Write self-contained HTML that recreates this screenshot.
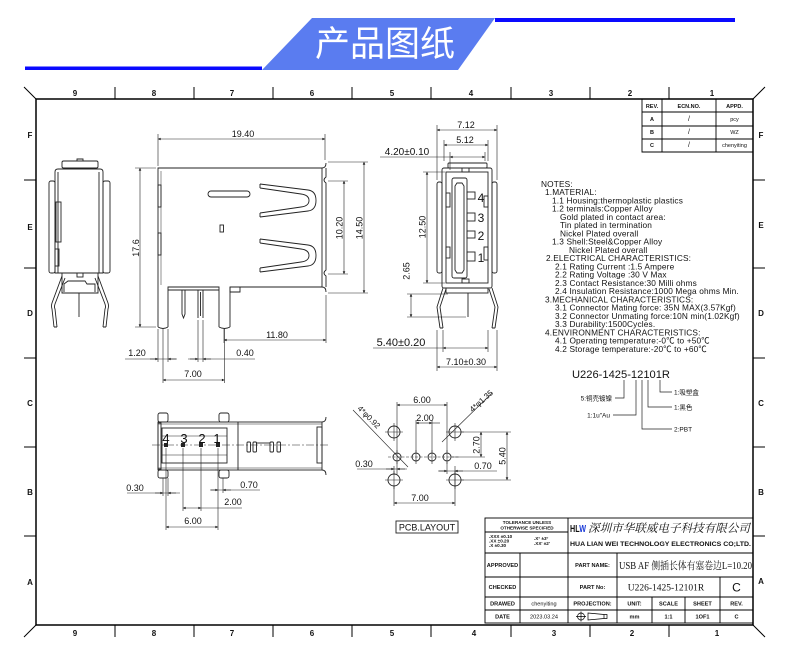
<!DOCTYPE html>
<html><head><meta charset="utf-8"><style>
html,body{margin:0;padding:0;background:#fff;}
svg{display:block;}
text{font-family:"Liberation Sans","Noto Sans CJK SC",sans-serif;fill:#111;}
.b{font-weight:bold;}
.sf{font-family:"Liberation Serif","Noto Serif CJK SC",serif;}
</style></head><body>
<svg width="790" height="663" viewBox="0 0 790 663" xmlns="http://www.w3.org/2000/svg">
<defs>
<marker id="a" viewBox="0 0 10 10" refX="10" refY="5" markerWidth="6" markerHeight="2.6" orient="auto-start-reverse" markerUnits="userSpaceOnUse"><path d="M0,0 L10,5 L0,10z" fill="#111"/></marker>
</defs>
<rect width="790" height="663" fill="#fff"/>

<!-- header -->
<rect x="495" y="18" width="240" height="4" fill="#0a0aff"/>
<rect x="25" y="66.5" width="237" height="3.5" fill="#0a0aff"/>
<polygon points="312,18 495,18 458,70 262,70" fill="#5a7cf0"/>
<text x="385" y="56" font-size="35" style="fill:#fff" text-anchor="middle" font-family="Noto Sans CJK SC, sans-serif">产品图纸</text>

<!-- frame -->
<g stroke="#000" fill="none">
<rect x="36" y="99" width="717" height="526" stroke-width="1.5"/>
<path stroke-width="1" d="M36,99 L24,87 M753,99 L765,87 M36,625 L24,637 M753,625 L765,637"/>
<path stroke-width="1" d="M115,87V99 M194,87V99 M273,87V99 M352,87V99 M431,87V99 M511,87V99 M590,87V99 M669,87V99
M115,625V637 M194,625V637 M273,625V637 M352,625V637 M431,625V637 M511,625V637 M590,625V637 M669,625V637
M24,180H36 M24,268H36 M24,358H36 M24,447H36 M24,536H36
M753,180H765 M753,268H765 M753,358H765 M753,447H765 M753,536H765"/>
</g>
<g class="b" font-size="8" text-anchor="middle">
<text x="75" y="96">9</text><text x="154" y="96">8</text><text x="232" y="96">7</text><text x="312" y="96">6</text><text x="392" y="96">5</text><text x="471" y="96">4</text><text x="551" y="96">3</text><text x="630" y="96">2</text><text x="712" y="96">1</text>
<text x="75" y="636">9</text><text x="154" y="636">8</text><text x="232" y="636">7</text><text x="312" y="636">6</text><text x="392" y="636">5</text><text x="474" y="636">4</text><text x="554" y="636">3</text><text x="632" y="636">2</text><text x="717" y="636">1</text>
<text x="30" y="138">F</text><text x="30" y="230">E</text><text x="30" y="316">D</text><text x="30" y="406">C</text><text x="30" y="495">B</text><text x="30" y="585">A</text>
<text x="761" y="138">F</text><text x="761" y="228">E</text><text x="761" y="316">D</text><text x="761" y="406">C</text><text x="761" y="495">B</text><text x="761" y="584">A</text>
</g>

<!-- revision table -->
<g stroke="#000" fill="none" stroke-width="0.9">
<path d="M642,99 V152 H753 M642,112 H753 M642,126 H753 M642,139 H753 M662,99 V152 M716,99 V152"/>
</g>
<g font-size="5.5" text-anchor="middle">
<text class="b" x="652" y="108">REV.</text><text class="b" x="689" y="108">ECN.NO.</text><text class="b" x="734.5" y="108">APPD.</text>
<text class="b" x="652" y="121">A</text><text x="689" y="121" font-size="7">/</text><text x="734.5" y="121">pcy</text>
<text class="b" x="652" y="134">B</text><text x="689" y="134" font-size="7">/</text><text x="734.5" y="134">WZ</text>
<text class="b" x="652" y="147">C</text><text x="689" y="147" font-size="7">/</text><text x="734.5" y="147">chenyiting</text>
</g>

<!-- side view (left) -->
<g stroke="#222" stroke-width="0.9" fill="none">
<rect x="62" y="161" width="36" height="7" rx="1.5"/>
<path d="M77,161 V159 H83 V161"/>
<path d="M55,273 V172 Q55,169 58,169 H100 Q103,169 103,172 V273 Z"/>
<path d="M58,172 V273 M99,172 V273"/>
<rect x="49" y="181" width="6" height="92" rx="2"/>
<rect x="103" y="181" width="7" height="92" rx="2"/>
<rect x="56" y="202" width="5" height="40"/>
<rect x="55" y="249" width="4" height="17"/>
<path d="M62,273 V293 H98 V273"/>
<path d="M64,292 V284 L68,281 H85 L87,284 H95 V292"/>
<rect x="77" y="273" width="6" height="4"/>
<path d="M62,276 L52,303 Q51,306 52,309 L54,327 M65,278 L55,304 Q54,307 55,309 L57,327 M54,327 H57"/>
<path d="M98,276 L108,303 Q109,306 108,309 L106,327 M95,278 L105,304 Q106,307 105,309 L103,327 M103,327 H106"/>
<path d="M79,293 V317"/>
</g>

<!-- front view -->
<g stroke="#222" stroke-width="0.9" fill="none">
<path d="M158,327 V168 H322"/>
<path d="M322,168 Q326,168 326,163"/>
<path d="M322,168 V287"/>
<path d="M326,168 V177 Q322,180 326,183 V270 Q322,273 326,276 V287"/>
<path d="M322,287 Q326,287 326,292"/>
<path d="M168,327 V287 H219 V327"/>
<path d="M230,327 V287 H322"/>
<path d="M230,287 V292 H240 V287"/>
<path d="M158,327 Q163,330 168,327 M219,327 Q224.5,330 230,327"/>
<path d="M161,171 V285" stroke-width="0.5"/>
<path d="M168,290 H219"/>
<path d="M182,290 V314 L183.5,318 L185,314 V290"/>
<path d="M198,290 V318 M203,290 V318 M200.5,292 V316"/>
<rect x="208" y="191" width="42" height="6" rx="3"/>
<rect x="220" y="225" width="3.5" height="7"/>
<rect x="158" y="185" width="3" height="22"/>
<rect x="158" y="233" width="3" height="22"/>
<path d="M260,184 L308,190 Q316,191 316,200.5 Q316,210 308,211 L260,217 M260,184 V188 M260,213 V217"/>
<path d="M260,188 L301,194 Q309,195 309,200.5 Q309,206 301,207 L260,213"/>
<path d="M260,239 L308,245 Q316,246 316,255.5 Q316,265 308,266 L260,272 M260,239 V243 M260,268 V272"/>
<path d="M260,243 L301,249 Q309,250 309,255.5 Q309,261 301,262 L260,268"/>
</g>

<!-- end view -->
<g stroke="#222" stroke-width="0.9" fill="none">
<rect x="448" y="163" width="39" height="5" rx="1"/>
<rect x="442" y="168" width="50" height="120" rx="2"/>
<rect x="446" y="172" width="42" height="111"/>
<rect x="462" y="168" width="7" height="4"/>
<rect x="462" y="279" width="7" height="4"/>
<rect x="437" y="182" width="5" height="91" rx="2"/>
<rect x="492" y="182" width="5" height="91" rx="2"/>
<rect x="452" y="178" width="15" height="100" rx="2"/>
<path d="M455,186 L457,183 H462 L464,186 V270 L462,273 H457 L455,270 Z"/>
<rect x="467" y="192" width="8" height="7"/>
<rect x="467" y="213" width="8" height="8"/>
<rect x="467" y="231" width="8" height="7"/>
<rect x="467" y="252" width="8" height="9"/>
<rect x="446" y="193" width="4" height="14"/>
<rect x="446" y="247" width="4" height="11"/>
<rect x="484" y="196" width="4" height="11"/>
<rect x="484" y="247" width="4" height="13"/>
<rect x="446" y="288" width="42" height="5"/>
<path d="M443,288 L437,307 L440,328 M446,289 L440,307 L443,328 M440,328 H443"/>
<path d="M492,288 L498,307 L495,328 M489,289 L495,307 L492,328 M492,328 H495"/>
<path d="M468,293 V317"/>
</g>
<g font-size="12" text-anchor="middle">
<text x="481" y="202">4</text><text x="481" y="222">3</text><text x="481" y="240">2</text><text x="481" y="262">1</text>
</g>

<!-- dimensions (top) -->
<g stroke="#222" stroke-width="0.6" fill="none">
<path d="M158,134 V166 M325,134 V160"/>
<line x1="158" y1="139" x2="325" y2="139" marker-start="url(#a)" marker-end="url(#a)"/>
<path d="M135,168 H156 M135,327 H156"/>
<line x1="140" y1="168" x2="140" y2="327" marker-start="url(#a)" marker-end="url(#a)"/>
<path d="M328,181 H348 M328,274 H348"/>
<line x1="344" y1="181" x2="344" y2="274" marker-start="url(#a)" marker-end="url(#a)"/>
<path d="M328,162 H368 M328,293 H368"/>
<line x1="364" y1="162" x2="364" y2="293" marker-start="url(#a)" marker-end="url(#a)"/>
<path d="M224,329 V343 M326,295 V343"/>
<line x1="224" y1="340" x2="326" y2="340" marker-start="url(#a)" marker-end="url(#a)"/>
<path d="M158,329 V362 M168,329 V362 M198,320 V362 M203,320 V362 M163,329 V383 M224.5,329 V383"/>
<path d="M125,359 H177 M188,359 H255"/>
<line x1="150" y1="359" x2="158" y2="359" marker-end="url(#a)"/>
<line x1="176" y1="359" x2="168" y2="359" marker-end="url(#a)"/>
<line x1="190" y1="359" x2="198" y2="359" marker-end="url(#a)"/>
<line x1="211" y1="359" x2="203" y2="359" marker-end="url(#a)"/>
<line x1="163" y1="380" x2="224.5" y2="380" marker-start="url(#a)" marker-end="url(#a)"/>
<!-- end view dims -->
<path d="M437,125 V180 M497,125 V180 M444,140 V161 M488,140 V161 M450,152 V170 M485,152 V161"/>
<line x1="437" y1="130" x2="497" y2="130" marker-start="url(#a)" marker-end="url(#a)"/>
<line x1="444" y1="145" x2="488" y2="145" marker-start="url(#a)" marker-end="url(#a)"/>
<path d="M380,157 H450"/>
<line x1="450" y1="157" x2="485" y2="157" marker-start="url(#a)" marker-end="url(#a)"/>
<path d="M423,172 H445 M423,283 H445"/>
<line x1="427" y1="172" x2="427" y2="283" marker-start="url(#a)" marker-end="url(#a)"/>
<path d="M407,294 H448 M407,317 H466"/>
<line x1="411" y1="294" x2="411" y2="317" marker-start="url(#a)" marker-end="url(#a)"/>
<path d="M443,330 V352 M488,330 V352 M437,330 V371 M497,330 V371"/>
<path d="M373,348 H443"/>
<line x1="443" y1="348" x2="488" y2="348" marker-start="url(#a)" marker-end="url(#a)"/>
<line x1="437" y1="367" x2="497" y2="367" marker-start="url(#a)" marker-end="url(#a)"/>
</g>
<g font-size="9" text-anchor="middle">
<text x="243" y="137">19.40</text>
<text transform="translate(139,248) rotate(-90)">17.6</text>
<text transform="translate(342.5,228) rotate(-90)">10.20</text>
<text transform="translate(362.5,228) rotate(-90)">14.50</text>
<text x="277" y="338">11.80</text>
<text x="137" y="356">1.20</text>
<text x="245" y="356">0.40</text>
<text x="193" y="377">7.00</text>
<text x="466" y="128">7.12</text>
<text x="465" y="143">5.12</text>
<text x="407" y="155" font-size="10">4.20±0.10</text>
<text transform="translate(425.5,227) rotate(-90)">12.50</text>
<text transform="translate(409.5,271) rotate(-90)">2.65</text>
<text x="401" y="346" font-size="11">5.40±0.20</text>
<text x="466" y="365">7.10±0.30</text>
</g>

<!-- notes -->
<g font-size="8.3" style="letter-spacing:0.15px">
<text x="541" y="187">NOTES:</text>
<text x="545" y="195.2">1.MATERIAL:</text>
<text x="552" y="203.5">1.1  Housing:thermoplastic plastics</text>
<text x="552" y="211.7">1.2  terminals:Copper Alloy</text>
<text x="560" y="220">Gold plated in contact area:</text>
<text x="560" y="228.2">Tin plated in termination</text>
<text x="560" y="236.5">Nickel Plated overall</text>
<text x="552" y="244.7">1.3  Shell:Steel&amp;Copper Alloy</text>
<text x="569" y="253">Nickel Plated overall</text>
<text x="546" y="261.2">2.ELECTRICAL  CHARACTERISTICS:</text>
<text x="555" y="269.5">2.1  Rating Current :1.5 Ampere</text>
<text x="555" y="277.7">2.2  Rating Voltage :30 V Max</text>
<text x="555" y="286">2.3  Contact Resistance:30 Milli ohms</text>
<text x="555" y="294.2">2.4  Insulation Resistance:1000 Mega ohms Min.</text>
<text x="545" y="302.5">3.MECHANICAL  CHARACTERISTICS:</text>
<text x="555" y="310.7">3.1  Connector Mating force: 35N MAX(3.57Kgf)</text>
<text x="555" y="319">3.2  Connector Unmating force:10N min(1.02Kgf)</text>
<text x="555" y="327.2">3.3  Durability:1500Cycles.</text>
<text x="545" y="335.5">4.ENVIRONMENT  CHARACTERISTICS:</text>
<text x="555" y="343.7">4.1  Operating temperature:-0℃ to +50℃</text>
<text x="555" y="352">4.2  Storage temperature:-20℃ to +60℃</text>
</g>

<!-- part number -->
<text x="572" y="378" font-size="11" textLength="98" lengthAdjust="spacingAndGlyphs">U226-1425-12101R</text>
<g stroke="#222" stroke-width="0.7" fill="none">
<path d="M624,380 V398 H615 M636,380 V415 H613 M642,380 V429 H672 M648,380 V407 H672 M660,380 V392 H672"/>
</g>
<g font-size="6.5">
<text x="612" y="400.5" text-anchor="end">5:铜壳镀镍</text>
<text x="610" y="417.5" text-anchor="end">1:1u"Au</text>
<text x="674" y="394.5">1:吸塑盒</text>
<text x="674" y="409.5">1:黑色</text>
<text x="674" y="431.5">2:PBT</text>
</g>

<!-- top view bottom-left -->
<g stroke="#222" stroke-width="0.9" fill="none">
<rect x="158" y="422" width="164" height="48"/>
<path d="M158,424 H322 M158,468 H322" stroke-width="0.5"/>
<path d="M238,422 V470"/>
<rect x="158" y="423" width="3" height="46"/>
<rect x="162" y="428" width="65" height="35"/>
<path d="M162,436 H227 M162,455 H227" stroke-width="0.5"/>
<rect x="158" y="413" width="10" height="9" rx="2"/>
<rect x="219" y="413" width="10" height="9" rx="2"/>
<rect x="158" y="470" width="10" height="8" rx="2"/>
<rect x="219" y="470" width="10" height="8" rx="2"/>
<rect x="317" y="427" width="5" height="36"/>
<path d="M322,422 Q326,422 326,417 M322,470 Q326,470 326,475"/>
<rect x="247" y="442" width="3.5" height="10" rx="1"/>
<rect x="253" y="442" width="3.5" height="10" rx="1"/>
<rect x="270" y="442" width="3.5" height="10" rx="1"/>
<rect x="277" y="442" width="3.5" height="10" rx="1"/>
<path d="M256,443 H270"/>
<path d="M152,445 H330" stroke-width="0.5" stroke-dasharray="8,2,2,2"/>
</g>
<g fill="#222">
<rect x="164" y="443" width="4" height="4"/><rect x="181" y="443" width="4" height="4"/><rect x="199" y="443" width="4" height="4"/><rect x="216" y="443" width="4" height="4"/>
</g>
<g font-size="13" text-anchor="middle">
<text x="166" y="443">4</text><text x="184" y="443">3</text><text x="202" y="443">2</text><text x="217" y="443">1</text>
</g>
<g stroke="#222" stroke-width="0.6" fill="none">
<path d="M166,448 V530 M218,448 V530 M183,448 V511 M201,448 V511 M163,478 V496 M168,478 V496 M223,478 V493"/>
<path d="M127,493 H180 M210,490 H260 M201,508 H242"/>
<line x1="155" y1="493" x2="163" y2="493" marker-end="url(#a)"/>
<line x1="176" y1="493" x2="168" y2="493" marker-end="url(#a)"/>
<line x1="211" y1="490" x2="218" y2="490" marker-end="url(#a)"/>
<line x1="231" y1="490" x2="223" y2="490" marker-end="url(#a)"/>
<line x1="183" y1="508" x2="201" y2="508" marker-start="url(#a)" marker-end="url(#a)"/>
<line x1="166" y1="527" x2="218" y2="527" marker-start="url(#a)" marker-end="url(#a)"/>
</g>
<g font-size="9" text-anchor="middle">
<text x="135" y="491">0.30</text>
<text x="249" y="488">0.70</text>
<text x="233" y="505">2.00</text>
<text x="193" y="524">6.00</text>
</g>

<!-- PCB layout -->
<g stroke="#222" stroke-width="0.9" fill="none">
<circle cx="394" cy="432" r="6"/><circle cx="455" cy="432" r="6"/>
<circle cx="394" cy="480" r="6"/><circle cx="455" cy="480" r="6"/>
<circle cx="397" cy="457" r="4"/><circle cx="416" cy="457" r="4"/>
<circle cx="432" cy="457" r="4"/><circle cx="447" cy="457" r="4"/>
</g>
<g stroke="#222" stroke-width="0.6" fill="none">
<path d="M385,432 H403 M394,423 V441 M446,432 H464 M455,423 V441 M385,480 H403 M394,471 V489 M446,480 H464 M455,471 V489"/>
<path d="M388,457 H460" stroke-dasharray="3,1.5"/>
<path d="M397,450 V464 M416,450 V464 M432,450 V464 M447,450 V464"/>
<path d="M397,402 V452 M447,402 V452 M416,420 V452 M432,420 V452"/>
<line x1="397" y1="405" x2="447" y2="405" marker-start="url(#a)" marker-end="url(#a)"/>
<path d="M432,423 H440"/>
<line x1="416" y1="423" x2="432" y2="423" marker-start="url(#a)" marker-end="url(#a)"/>
<path d="M461,432 H511 M452,457 H485 M461,480 H511"/>
<line x1="481" y1="432" x2="481" y2="457" marker-start="url(#a)" marker-end="url(#a)"/>
<line x1="507" y1="432" x2="507" y2="480" marker-start="url(#a)" marker-end="url(#a)"/>
<path d="M357,469 H407 M438,471 H497"/>
<path d="M394,466 V474 M397,462 V474 M447,462 V474 M455,466 V486"/>
<line x1="386" y1="469" x2="394" y2="469" marker-end="url(#a)"/>
<line x1="405" y1="469" x2="397" y2="469" marker-end="url(#a)"/>
<line x1="439" y1="471" x2="447" y2="471" marker-end="url(#a)"/>
<line x1="463" y1="471" x2="455" y2="471" marker-end="url(#a)"/>
<path d="M394,486 V506 M455,486 V506"/>
<line x1="394" y1="503" x2="455" y2="503" marker-start="url(#a)" marker-end="url(#a)"/>
<path d="M353,410 L408,467 M492,393 L442,442"/>
</g>
<g font-size="9" text-anchor="middle">
<text x="422" y="403">6.00</text>
<text x="425" y="421">2.00</text>
<text transform="translate(479.5,445) rotate(-90)">2.70</text>
<text transform="translate(505.5,456) rotate(-90)">5.40</text>
<text x="364" y="467">0.30</text>
<text x="483" y="469">0.70</text>
<text x="420" y="501">7.00</text>
<text transform="translate(367,419) rotate(45)" font-size="8">4*φ0.92</text>
<text transform="translate(483,403) rotate(-42)" font-size="8">4*φ1.35</text>
</g>
<rect x="396" y="521" width="62" height="12" fill="none" stroke="#222" stroke-width="0.9"/>
<text x="427" y="530.5" font-size="9" text-anchor="middle">PCB.LAYOUT</text>

<!-- title block -->
<g stroke="#000" fill="none" stroke-width="0.9">
<rect x="485" y="518" width="268" height="105"/>
<path d="M485,553 H753 M485,577 H753 M485,597 H753 M485,610 H753 M485,532 H568"/>
<path d="M568,518 V623 M520,553 V623 M617,553 V623 M652,597 V623 M685,597 V623 M720,577 V623"/>
</g>
<g class="b" font-size="4.6">
<text x="527" y="524" text-anchor="middle">TOLERANCE UNLESS</text>
<text x="527" y="529.5" text-anchor="middle">OTHERWISE SPECIFIED</text>
<text x="489" y="538">.XXX  ±0.10</text>
<text x="489" y="542.5">.XX    ±0.20</text>
<text x="489" y="547">.X      ±0.30</text>
<text x="534" y="540">.X°    ±3°</text>
<text x="534" y="545">.XX'   ±2'</text>
</g>
<text x="570" y="532" font-size="10" class="b" textLength="16" lengthAdjust="spacingAndGlyphs">H<tspan>L</tspan><tspan style="fill:#1a3ad8">W</tspan></text>
<text x="588" y="532" font-size="11.5" class="sf" font-style="italic" textLength="162" lengthAdjust="spacingAndGlyphs">深圳市华联威电子科技有限公司</text>
<text x="570" y="546" font-size="6.5" class="b" textLength="181" lengthAdjust="spacingAndGlyphs">HUA LIAN WEI TECHNOLOGY ELECTRONICS CO;LTD.</text>
<g class="b" font-size="5.6" text-anchor="middle">
<text x="502.5" y="567">APPROVED</text>
<text x="592.5" y="567">PART NAME:</text>
<text x="502.5" y="589">CHECKED</text>
<text x="592.5" y="589">PART No:</text>
<text x="502.5" y="605.5">DRAWED</text>
<text x="592.5" y="605.5">PROJECTION:</text>
<text x="634.5" y="605.5">UNIT:</text>
<text x="668.5" y="605.5">SCALE</text>
<text x="702.5" y="605.5">SHEET</text>
<text x="736.5" y="605.5">REV.</text>
<text x="502.5" y="618.5">DATE</text>
<text x="634.5" y="618.5">mm</text>
<text x="668.5" y="618.5">1:1</text>
<text x="702.5" y="618.5">1OF1</text>
<text x="736.5" y="618.5">C</text>
</g>
<g font-size="5.6" text-anchor="middle">
<text x="544" y="605.5">chenyiting</text>
<text x="544" y="618.5">2023.03.24</text>
</g>
<text x="619" y="569" font-size="10.5" class="sf" textLength="133" lengthAdjust="spacingAndGlyphs">USB AF 侧插长体有塞卷边L=10.20</text>
<text x="666" y="590.5" font-size="9.5" class="sf" text-anchor="middle">U226-1425-12101R</text>
<text x="736.5" y="591.5" font-size="12" text-anchor="middle">C</text>
<g stroke="#000" stroke-width="0.7" fill="none">
<circle cx="581" cy="616.5" r="3.5"/>
<path d="M576,616.5 H586 M581,611.5 V621.5 M588,613 L604,614.5 V618.5 L588,620 Z M604,614.5 H607 V618.5 H604"/>
</g>
</svg>
</body></html>
